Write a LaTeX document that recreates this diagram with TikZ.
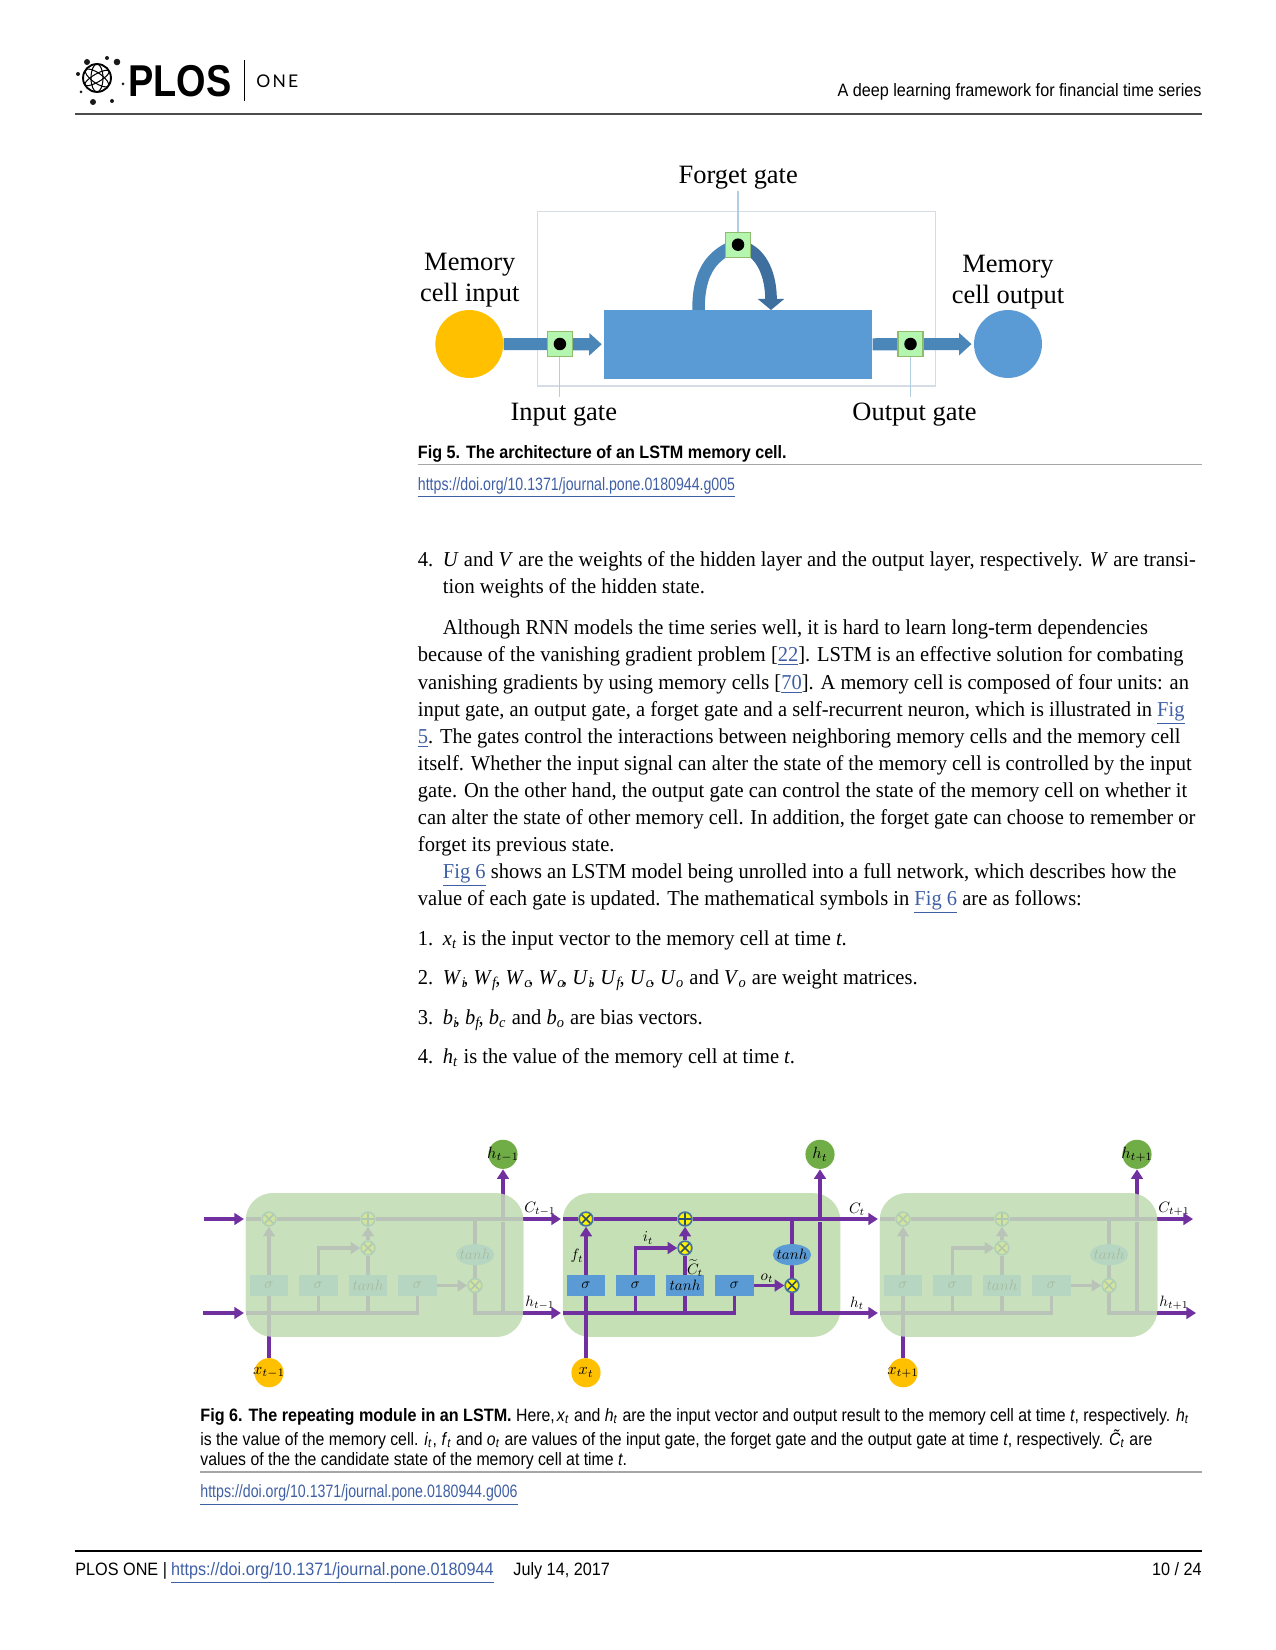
\documentclass[tikz,border=0pt]{standalone}
\usepackage{fontspec}
\setmainfont{Liberation Serif}
\newfontfamily\bodyfont{Liberation Serif}[FakeStretch=0.965]
\newfontfamily\capfont{Liberation Sans}[FakeStretch=0.883,BoldFeatures={FakeStretch=0.902}]
\newfontfamily\linkfont{Liberation Sans}[FakeStretch=0.79]
\newfontfamily\footfont{Liberation Sans}[FakeStretch=0.905]
\newfontfamily\logofont{Liberation Sans}[FakeStretch=0.85]
\newfontfamily\onefont{Lato}[LetterSpace=12]
\usetikzlibrary{arrows.meta,positioning,shapes.geometric}
\definecolor{lstmpurple}{HTML}{7030A0}
\definecolor{officeblue}{HTML}{5B9BD5}
\definecolor{arrowblue}{HTML}{4A86B8}
\definecolor{darkblue}{HTML}{3E6F9F}
\definecolor{officegold}{HTML}{FFC000}
\definecolor{officegreen}{HTML}{70AD47}
\definecolor{cellgreen}{HTML}{C5E0B4}
\definecolor{veilgreen}{HTML}{C9E2BE}
\definecolor{gatefill}{HTML}{B4F5B0}
\definecolor{framegray}{HTML}{D6DCE5}
\definecolor{tickblue}{HTML}{B0CFE0}
\definecolor{linkblue}{HTML}{3F5FA5}
\newcommand{\plink}[1]{\textcolor{linkblue}{\underline{#1}}}
\newcommand{\isub}[2]{\textit{#1}\textsubscript{\textit{#2}}}
\newcommand{\isubc}[2]{\isub{#1}{#2}\kern-1.6pt}
\newcommand{\mlbl}[1]{\makebox[0pt]{\scalebox{0.72}{$#1$}}}
\newcommand{\mlblbig}[1]{\makebox[0pt]{\scalebox{0.78}{$#1$}}}
\pgfdeclarelayer{under}
\pgfdeclarelayer{wires}
\pgfdeclarelayer{fade}
\pgfsetlayers{under,wires,main,fade}
\tikzset{
	bodytext/.style={anchor=base west,inner sep=0pt,font=\bodyfont\fontsize{10.2}{12}\selectfont},
	captext/.style={anchor=base west,inner sep=0pt,font=\capfont\fontsize{8.6}{10}\selectfont},
	linktext/.style={anchor=base west,inner sep=0pt,font=\linkfont\fontsize{8.6}{10}\selectfont},
	foottext/.style={anchor=base west,inner sep=0pt,font=\footfont\fontsize{8.6}{10}\selectfont},
	figlabel/.style={inner sep=0pt,align=center,font=\fontsize{12.7}{15}\selectfont},
	pagerule/.style={line width=0.6pt,draw=black!70},
	figrule/.style={line width=0.5pt,draw=black!35},
	memcell/.style={circle,minimum size=32.6pt,inner sep=0pt},
	gatebox/.style={draw=officegreen!80,fill=gatefill,line width=0.5pt,minimum size=12pt,inner sep=0pt},
	gatedot/.style={circle,fill=black,minimum size=6pt,inner sep=0pt},
	gateline/.style={draw=tickblue,line width=0.5pt},
	blockarrow/.style={line width=5.8pt,draw=arrowblue,-{Triangle[length=6pt,width=10.5pt]}},
	flow/.style={line width=1.55pt,draw=lstmpurple},
	tip/.style={-{Triangle[length=4.6pt,width=5.6pt]}},
	cellbody/.style={rounded corners=13pt,minimum width=133.2pt,minimum height=69pt,inner sep=0pt},
	lstmbox/.style={fill=officeblue,minimum width=18.5pt,minimum height=9.9pt,inner sep=0pt},
	lstmoval/.style={ellipse,fill=officeblue,minimum width=18.4pt,minimum height=10.2pt,inner sep=0pt},
	wirelabel/.style={inner sep=0pt},
	ionode/.style={circle,minimum size=14pt,inner sep=0pt},
	timesgate/.style={circle,draw=officeblue!75!black,fill=yellow,line width=0.8pt,minimum size=6.6pt,inner sep=0pt,
		path picture={\draw[officeblue!50!black,line width=0.7pt] (path picture bounding box.north west) -- (path picture bounding box.south east) (path picture bounding box.north east) -- (path picture bounding box.south west);}},
	plusgate/.style={circle,draw=officeblue!75!black,fill=yellow,line width=0.8pt,minimum size=6.6pt,inner sep=0pt,
		path picture={\draw[officeblue!50!black,line width=0.7pt] (path picture bounding box.north) -- (path picture bounding box.south) (path picture bounding box.east) -- (path picture bounding box.west);}}
}
\begin{document}
\begin{tikzpicture}[x=0.48pt,y=-0.48pt]
	\useasboundingbox (0,0) rectangle (1275,1650);
	\node[circle,draw,line width=0.9pt,minimum size=13.4pt,inner sep=0pt] (globe) at (97,78) {};
	\draw[line width=0.5pt] (97,78) ellipse (6 and 14);
	\draw[line width=0.5pt,rotate around={55:(97,78)}] (97,78) ellipse (5 and 14);
	\draw[line width=0.5pt,rotate around={-60:(97,78)}] (97,78) ellipse (4 and 14);
	\foreach \xx/\yy/\rr [count=\i] in {107/58/2,117/62/3.3,87/62/3,78/74/2,123/84/1.5,81/92/1.5,93/102/3,112/101/2}
		\fill[black!90] (\xx,\yy) circle (\rr);
	\node[anchor=base west,inner sep=0pt,font=\logofont\bfseries\fontsize{21.4}{24}\selectfont] (plos) at (128,97) {PLOS};
	\coordinate (bartop) at (244,60);
	\coordinate (barbot) at (244,101);
	\draw[line width=0.4pt] (bartop) -- (barbot);
	\node[anchor=base west,inner sep=0pt,font=\onefont\fontsize{8.4}{9}\selectfont] (one) at (256,88) {ONE};
	\node[foottext,anchor=base east] (runhead) at (1202,97) {A deep learning framework for financial time series};
	\coordinate (ruleaL) at (75,114);
	\coordinate (ruleaR) at (1202,114);
	\draw[pagerule] (ruleaL) -- (ruleaR);

	\node[draw=framegray,line width=0.6pt,minimum width=191pt,minimum height=83.6pt,inner sep=0pt] (frame) at (736.4,298.8) {};
	\node[fill=officeblue,minimum width=128.6pt,minimum height=33pt,inner sep=0pt] (neuron) at (738.2,344.3) {};
	\node[memcell,fill=officegold] (cellin) at (469.3,344) {};
	\node[memcell,fill=officeblue] (cellout) at (1008,344) {};
	\draw[blockarrow,shorten >=1pt] (cellin) -- (neuron.west);
	\draw[blockarrow,shorten >=1pt] (neuron.east) -- (cellout);
	\coordinate (loopa) at (698.5,310);
	\coordinate (loopb) at (771,310);
	\coordinate (loopl) at (730,248);
	\coordinate (loopr) at (746,248);
	\draw[line width=6pt,draw=arrowblue] (loopa) .. controls (698.5,282) and (705,260) .. (loopl);
	\draw[line width=5.6pt,draw=darkblue,-{Triangle[length=5.3pt,width=12.4pt]}] (loopr) .. controls (762,255) and (771,275) .. (loopb);
	\node[gatebox] (ingate) at (559.9,344) {};
	\node[gatebox] (outgate) at (910.5,344) {};
	\node[gatebox] (fgate) at (738,244.7) {};
	\node[gatedot] (indot) at (ingate) {};
	\node[gatedot] (outdot) at (outgate) {};
	\node[gatedot] (fdot) at (fgate) {};
	\node[figlabel] (forgetlbl) at (738.2,178) {Forget gate};
	\node[figlabel] (inlbl) at (563.8,415) {Input gate};
	\node[figlabel] (outlbl) at (914.5,415) {Output gate};
	\node[figlabel] (cellinlbl) at (469.8,280) {Memory\\cell input};
	\node[figlabel] (celloutlbl) at (1008,282) {Memory\\cell output};
	\coordinate (ftop) at (738,191);
	\coordinate (iend) at (559.9,397);
	\coordinate (oend) at (910.5,397);
	\draw[gateline] (ftop) -- (fgate.north);
	\draw[gateline] (ingate.south) -- (iend);
	\draw[gateline] (outgate.south) -- (oend);

	\node[captext] (figfive) at (417.5,458) {\textbf{Fig 5. The architecture of an LSTM memory cell.}};
	\coordinate (rulebL) at (417.5,464.5);
	\coordinate (rulebR) at (1202,464.5);
	\draw[figrule] (rulebL) -- (rulebR);
	\node[linktext] (doifive) at (417.5,490) {\plink{https://doi.org/10.1371/journal.pone.0180944.g005}};

	\foreach \xx/\yy/\txt [count=\i] in {
		417.5/566/{4.},
		442.5/566/{\textit{U} and \textit{V} are the weights of the hidden layer and the output layer, respectively. \textit{W} are transi-},
		442.5/593.5/{tion weights of the hidden state.},
		442.5/634/{Although RNN models the time series well, it is hard to learn long-term dependencies},
		417.5/661/{because of the vanishing gradient problem [\plink{22}]. LSTM is an effective solution for combating},
		417.5/689/{vanishing gradients by using memory cells [\plink{70}]. A memory cell is composed of four units: an},
		417.5/716/{input gate, an output gate, a forget gate and a self-recurrent neuron, which is illustrated in \plink{Fig}},
		417.5/743/{\plink{5}. The gates control the interactions between neighboring memory cells and the memory cell},
		417.5/770/{itself. Whether the input signal can alter the state of the memory cell is controlled by the input},
		417.5/797/{gate. On the other hand, the output gate can control the state of the memory cell on whether it},
		417.5/824/{can alter the state of other memory cell. In addition, the forget gate can choose to remember or},
		417.5/851/{forget its previous state.},
		442.5/878/{\plink{Fig 6} shows an LSTM model being unrolled into a full network, which describes how the},
		417.5/905/{value of each gate is updated. The mathematical symbols in \plink{Fig 6} are as follows:},
		417.5/945.5/{1.},
		442.5/945.5/{\isub{x}{t} is the input vector to the memory cell at time \textit{t}.},
		417.5/984/{2.},
		442.5/984/{\isubc{W}{i}, \isubc{W}{f}, \isubc{W}{c}, \isubc{W}{o}, \isubc{U}{i}, \isubc{U}{f}, \isubc{U}{c}, \isub{U}{o} and \isub{V}{o} are weight matrices.},
		417.5/1024/{3.},
		442.5/1024/{\isubc{b}{i}, \isubc{b}{f}, \isub{b}{c} and \isub{b}{o} are bias vectors.},
		417.5/1063.5/{4.},
		442.5/1063.5/{\isub{h}{t} is the value of the memory cell at time \textit{t}.}}
		\node[bodytext] (bodyline\i) at (\xx,\yy) {\txt};

	\foreach \m/\sh/\lbl/\faded in {a/-317/t-1/1,b/0/t/0,c/317/t+1/1}{
		\begin{scope}[shift={(\sh,0)},name prefix=\m-]
			\begin{pgfonlayer}{under}
				\node[cellbody,fill=cellgreen] (body) at (701.5,1265) {};
			\end{pgfonlayer}
			\coordinate (cin) at (563,1219);
			\coordinate (cout) at (840,1219);
			\coordinate (hin) at (563,1313);
			\coordinate (hout) at (840,1313);
			\coordinate (joint) at (820,1313);
			\coordinate (gapa) at (820,1222);
			\coordinate (gapb) at (820,1216.5);
			\node[timesgate] (fcross) at (586,1219) {};
			\node[plusgate] (pcross) at (685,1219) {};
			\node[timesgate] (icross) at (685,1248) {};
			\node[timesgate] (ocross) at (792,1285.5) {};
			\node[lstmbox] (fbox) at (586,1285.5) {\mlbl{\sigma}};
			\node[lstmbox] (ibox) at (635.3,1285.5) {\mlbl{\sigma}};
			\node[lstmbox] (tbox) at (685,1285.5) {\mlbl{tanh}};
			\node[lstmbox] (obox) at (734.5,1285.5) {\mlbl{\sigma}};
			\node[lstmoval] (toval) at (792,1254.7) {\mlbl{tanh}};
			\node[ionode,fill=officegold] (xin) at (586,1372.7) {\mlblbig{x_{\lbl}}};
			\node[ionode,fill=officegreen] (hup) at (820,1154.3) {\mlblbig{h_{\lbl}}};
			\node[wirelabel] (clbl) at (857,1209) {\mlbl{C_{\lbl}}};
			\node[wirelabel] (hlbl) at (857,1303) {\mlbl{h_{\lbl}}};
			\begin{pgfonlayer}{wires}
				\draw[flow] (cin) -- (fcross) -- (pcross) -- (cout);
				\draw[flow] (hin) -| (obox.south);
				\draw[flow] (ibox.south) -- (ibox.south |- hin);
				\draw[flow] (tbox.south) -- (tbox.south |- hin);
				\draw[flow] (xin.north) -- (fbox.south);
				\draw[flow,tip] (fbox.north) -- (fcross.south);
				\draw[flow,tip] (ibox.north) |- (icross.west);
				\draw[flow] (tbox.north) -- (icross.south);
				\draw[flow,tip] (icross.north) -- (pcross.south);
				\draw[flow,tip] (obox.east) -- (ocross.west);
				\draw[flow] (ocross.north) -- (ocross.north |- cin);
				\draw[flow] (ocross.south) |- (hout);
				\draw[flow] (joint) -- (gapa);
				\draw[flow,tip] (gapb) -- (hup.south);
			\end{pgfonlayer}
			\ifnum\faded=1
				\begin{pgfonlayer}{fade}
					\node[cellbody,fill=veilgreen,fill opacity=0.83] (veil) at (body) {};
				\end{pgfonlayer}
			\fi
		\end{scope}
	}
	\node[wirelabel] (ftlbl) at (577,1256) {\mlbl{f_t}};
	\node[wirelabel] (itlbl) at (648,1238) {\mlbl{i_t}};
	\node[wirelabel] (ctlbl) at (695,1268) {\mlbl{\widetilde{C}_t}};
	\node[wirelabel] (otlbl) at (767,1278) {\mlbl{o_t}};
	\coordinate (cstart) at (204,1219);
	\coordinate (hstart) at (203,1313);
	\coordinate (cend) at (1193,1219);
	\coordinate (hend) at (1196,1313);
	\draw[flow,tip,shorten >=1pt] (cstart) -- (a-cin);
	\draw[flow,tip,shorten >=1pt] (hstart) -- (a-hin);
	\draw[flow,tip,shorten >=1pt] (a-cout) -- (b-cin);
	\draw[flow,tip,shorten >=1pt] (a-hout) -- (b-hin);
	\draw[flow,tip,shorten >=1pt] (b-cout) -- (c-cin);
	\draw[flow,tip,shorten >=1pt] (b-hout) -- (c-hin);
	\draw[flow,tip] (c-cout) -- (cend);
	\draw[flow,tip] (c-hout) -- (hend);

	\node[captext] (capa) at (200,1421) {\textbf{Fig 6. The repeating module in an LSTM.} Here,\hspace{1pt}\isub{x}{t} and \isub{h}{t} are the input vector and output result to the memory cell at time \textit{t}, respectively. \isub{h}{t}};
	\node[captext] (capb) at (200,1445) {is the value of the memory cell. \isub{i}{t}, \isub{f}{t} and \isub{o}{t} are values of the input gate, the forget gate and the output gate at time \textit{t}, respectively. \isub{\~{C}}{t} are};
	\node[captext] (capc) at (200,1465) {values of the the candidate state of the memory cell at time \textit{t}.};
	\coordinate (rulecL) at (200,1472);
	\coordinate (rulecR) at (1202,1472);
	\draw[figrule] (rulecL) -- (rulecR);
	\node[linktext] (doisix) at (200,1497.5) {\plink{https://doi.org/10.1371/journal.pone.0180944.g006}};
	\coordinate (ruledL) at (75,1551);
	\coordinate (ruledR) at (1202,1551);
	\draw[line width=0.6pt] (ruledL) -- (ruledR);
	\node[foottext] (foot) at (75,1575.5) {PLOS ONE |};
	\node[foottext] (footlink) at (170.6,1575.5) {\plink{https://doi.org/10.1371/journal.pone.0180944}};
	\node[foottext] (footdate) at (513,1575.5) {July 14, 2017};
	\node[foottext,anchor=base east] (pageno) at (1202,1575.5) {10 / 24};
\end{tikzpicture}
\end{document}
